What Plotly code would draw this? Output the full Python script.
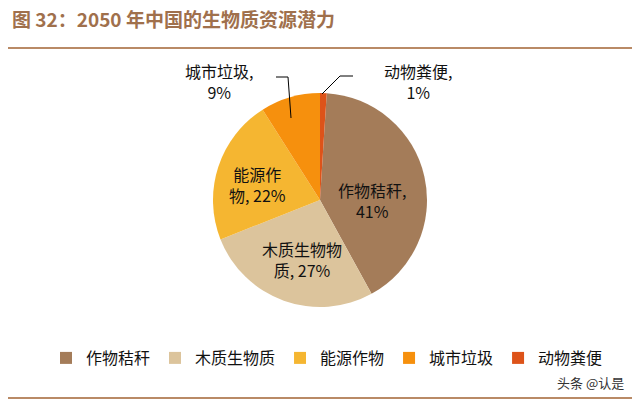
import plotly.graph_objects as go

labels = ["作物秸秆", "木质生物质", "能源作物", "城市垃圾", "动物粪便"]
values = [41, 27, 22, 9, 1]
colors = ["#A47C59", "#DCC49C", "#F5B631", "#F6900D", "#DD5319"]

F = "Noto Sans CJK SC"
OFF = 8  # page body margin

def px(x, y):
    return (x - OFF) / 640, 1 - (y - OFF) / 404

dx0, dy1 = px(213, 93)
dx1, dy0 = px(427, 307)
fig = go.Figure(go.Pie(
    labels=labels, values=values, sort=False, direction="clockwise", rotation=3.6,
    marker=dict(colors=colors, line=dict(color="white", width=0)),
    textinfo="none", hoverinfo="label+percent",
    domain=dict(x=[dx0, dx1], y=[dy0, dy1]),
))

annots = [
    ("作物秸秆,<br>41%", 372, 200),
    ("木质生物物<br>质, 27%", 302, 259),
    ("能源作<br>物, 22%", 257, 185),
    ("城市垃圾,<br>9%", 219, 82),
    ("动物粪便,<br>1%", 418, 82),
]
anns = []
for t, x, y in annots:
    ax, ay = px(x, y)
    anns.append(dict(text=t, x=ax, y=ay, xref="paper", yref="paper", showarrow=False,
                     xanchor="center", yanchor="middle",
                     font=dict(family=F, size=16, color="#111"), align="center"))
tx, ty = px(10, 18)
anns.append(dict(text="<b>图 32：2050 年中国的生物质资源潜力</b>", x=tx, y=ty,
                 xref="paper", yref="paper", xanchor="left", yanchor="middle", showarrow=False,
                 font=dict(family=F, size=19, color="#A0704C")))
wx, wy = px(626, 382)
anns.append(dict(text="头条 @认是", x=wx, y=wy, xref="paper", yref="paper",
                 xanchor="right", yanchor="middle", showarrow=False,
                 font=dict(family=F, size=13, color="#333")))

l0x, l0y = px(0, 48)
l1x, l1y = px(640, 398)
shapes = [
    dict(type="line", xref="paper", yref="paper", x0=l0x, x1=l1x, y0=l0y, y1=l0y,
         line=dict(color="#B98A66", width=2)),
    dict(type="line", xref="paper", yref="paper", x0=l0x, x1=l1x, y0=l1y, y1=l1y,
         line=dict(color="#B98A66", width=2)),
    dict(type="path", xref="paper", yref="paper",
         path="M {} {} L {} {} L {} {}".format(*px(276, 77), *px(288, 77), *px(291, 118)),
         line=dict(color="black", width=1)),
    dict(type="path", xref="paper", yref="paper",
         path="M {} {} L {} {} L {} {}".format(*px(353, 76), *px(340, 76), *px(322, 94)),
         line=dict(color="black", width=1)),
]

lx, ly = px(327, 358)
fig.update_layout(
    width=640, height=404, margin=dict(l=0, r=0, t=0, b=0),
    paper_bgcolor="white", plot_bgcolor="white",
    showlegend=True,
    legend=dict(orientation="h", x=lx, xanchor="center", y=ly, yanchor="middle",
                font=dict(family=F, size=16, color="#111"), itemwidth=30),
    annotations=anns, shapes=shapes,
)
fig.write_html("out.html")
